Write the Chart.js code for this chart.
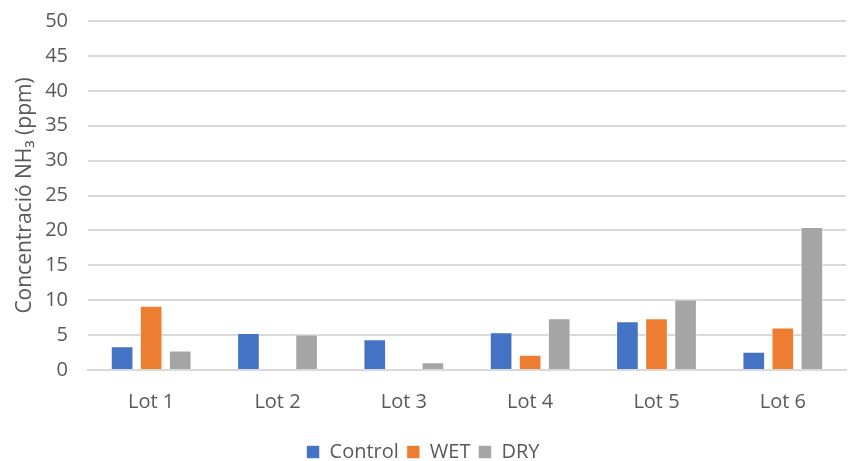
<!DOCTYPE html>
<html>
<head>
<meta charset="utf-8">
<script src="https://cdn.jsdelivr.net/npm/chart.js@4/dist/chart.umd.min.js"></script>
<style>
  html, body { margin: 0; padding: 0; background: #ffffff; }
  #wrap { width: 866px; height: 461px; }
</style>
</head>
<body>
<div id="wrap"><canvas id="chart" width="866" height="461"></canvas></div>
<script>
// Ammonia concentration per lot and treatment
const categories = ['Lot 1', 'Lot 2', 'Lot 3', 'Lot 4', 'Lot 5', 'Lot 6'];
const controlValues = [3.4, 5.3, 4.4, 5.4, 7.0, 2.6];
const wetValues = [9.2, null, null, 2.2, 7.4, 6.1];
const dryValues = [2.8, 5.1, 1.1, 7.4, 10.1, 20.5];
const yTicks = [0, 5, 10, 15, 20, 25, 30, 35, 40, 45, 50];

const textColor = '#595959';
const gridColor = '#d9d9d9';
const fontFamily = "'Open Sans', Lato, 'Liberation Sans', sans-serif";
const fontSize = 20;

function series(label, data, color) {
  return {
    label: label,
    data: data,
    backgroundColor: color,
    borderColor: 'rgba(255,255,255,0.6)',
    borderWidth: 1,
    categoryPercentage: 0.69,
    barPercentage: 0.78
  };
}

new Chart(document.getElementById('chart'), {
  type: 'bar',
  data: {
    labels: categories,
    datasets: [
      series('Control', controlValues, '#4472C4'),
      series('WET', wetValues, '#ED7D31'),
      series('DRY', dryValues, '#A5A5A5')
    ]
  },
  options: {
    responsive: false,
    animation: false,
    layout: { padding: { left: 0, right: 20, top: 21, bottom: -11 } },
    plugins: {
      tooltip: { enabled: false },
      legend: {
        position: 'bottom',
        labels: {
          color: textColor,
          font: { family: fontFamily, size: fontSize },
          boxWidth: 13,
          boxHeight: 13,
          padding: 8
        }
      }
    },
    scales: {
      x: {
        grid: { display: false, drawTicks: false },
        border: { display: true, color: gridColor, width: 2 },
        ticks: {
          color: textColor,
          font: { family: fontFamily, size: fontSize },
          padding: 20
        }
      },
      y: {
        min: 0,
        max: 50,
        afterBuildTicks: scale => { scale.ticks = yTicks.map(v => ({ value: v })); },
        afterFit: scale => {
          scale.width = 88;
          scale.paddingTop = 0;
          scale.paddingBottom = 0;
        },
        grid: { color: gridColor, lineWidth: 2, drawTicks: false },
        border: { display: false },
        ticks: {
          color: textColor,
          font: { family: fontFamily, size: fontSize },
          padding: 20
        },
        title: {
          display: true,
          text: 'Concentració NH\u2083 (ppm)',
          color: textColor,
          font: { family: fontFamily, size: 21 },
          padding: { top: 12, bottom: 2 }
        }
      }
    }
  }
});
</script>
</body>
</html>
